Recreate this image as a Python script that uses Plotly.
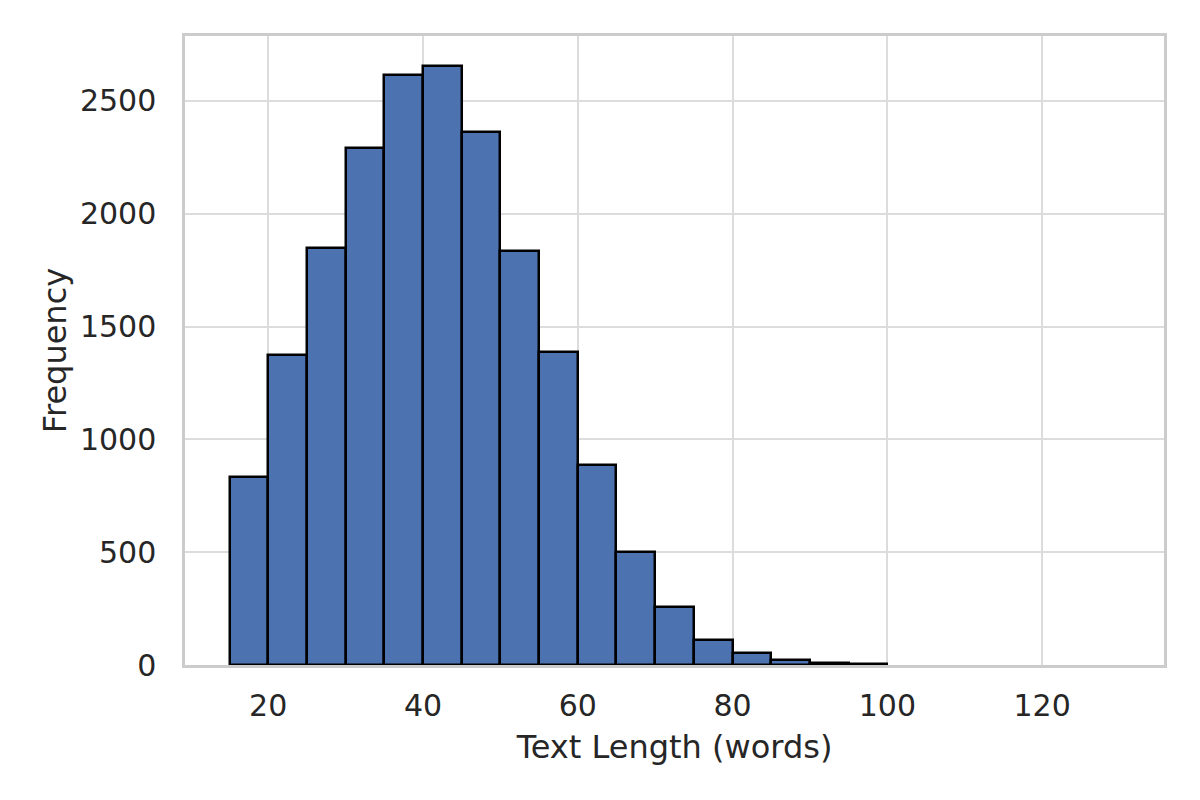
import plotly.graph_objects as go

bin_left = [15, 20, 25, 30, 35, 40, 45, 50, 55, 60, 65, 70, 75, 80, 85, 90, 95, 100, 105, 110, 115, 120, 125]
counts = [833, 1372, 1848, 2292, 2615, 2655, 2363, 1835, 1387, 887, 501, 257, 111, 53, 22, 9, 4, 2, 1, 0, 1, 0, 1]
bin_width = 5
x_ticks = [20, 40, 60, 80, 100, 120]
y_ticks = [0, 500, 1000, 1500, 2000, 2500]

centers = [b + bin_width / 2 for b in bin_left]
# near-zero bars are hidden under the bottom spine in the reference
edge_widths = [2.5 if c > 3 else 0 for c in counts]
bar_opacity = [1 if c > 3 else 0 for c in counts]

fig = go.Figure(go.Bar(
    x=centers, y=counts, width=[bin_width] * len(centers),
    marker=dict(color="#4c72b0", opacity=bar_opacity,
                line=dict(color="black", width=edge_widths)),
))

font = "DejaVu Sans"
fig.update_layout(
    width=1200, height=800,
    margin=dict(l=177, r=44, t=28, b=143),
    plot_bgcolor="white", paper_bgcolor="white",
    showlegend=False,
    font=dict(family=font, color="#262626", size=30),
    bargap=0,
)
fig.update_xaxes(
    range=[9.25, 135.75], tickvals=x_ticks, showgrid=True, gridcolor="#dcdcdc", gridwidth=2,
    showline=True, linecolor="#cccccc", linewidth=2.5, mirror=True, zeroline=False,
    ticks="", ticklabelstandoff=12, tickfont=dict(size=30),
    title=dict(text="Text Length (words)", font=dict(size=32), standoff=14),
)
fig.update_yaxes(
    range=[0, 2788], tickvals=y_ticks, showgrid=True, gridcolor="#dcdcdc", gridwidth=2,
    showline=True, linecolor="#cccccc", linewidth=2.5, mirror=True, zeroline=False,
    ticks="", ticklabelstandoff=20, tickfont=dict(size=30),
    title=dict(text="Frequency", font=dict(size=32), standoff=4),
)
fig.write_html("out.html")
